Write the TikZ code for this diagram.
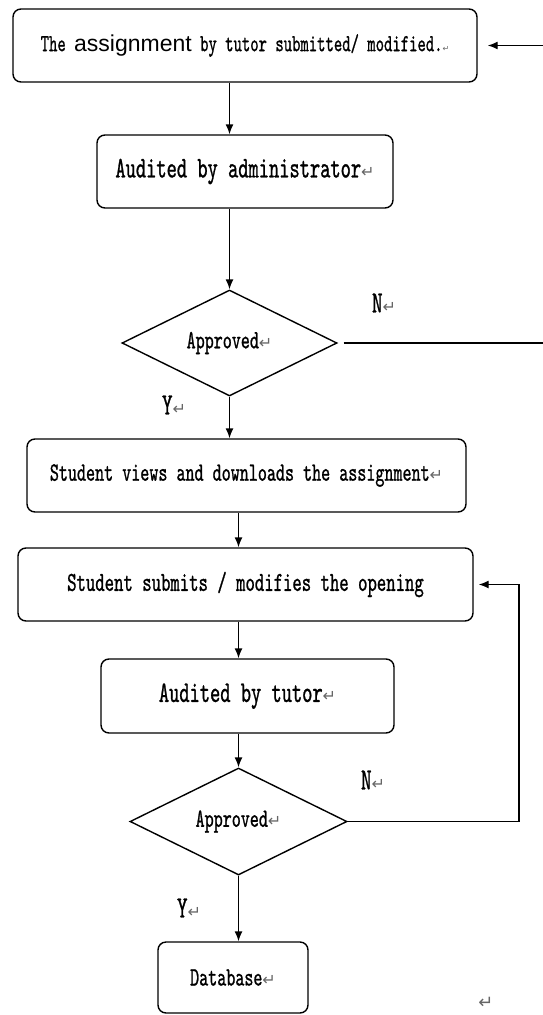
\documentclass[tikz,border=0pt]{standalone}
\usepackage{fontspec}
\usepackage{tikz}
\usetikzlibrary{shapes.geometric,arrows.meta}

\newfontfamily\cnmono[FakeStretch=0.65,FakeBold=0.9]{lmmono10-regular.otf}
\newfontfamily\cnsans{Liberation Sans}
\newfontfamily\markfont{DejaVu Sans}
\newcommand{\pmark}{{\markfont\fontsize{16}{16}\selectfont\color{black!60}↵}}

\begin{document}
\begin{tikzpicture}[
    x=1pt, y=-1pt,
    every node/.style={inner sep=0pt},
    box/.style={rectangle, draw, rounded corners=8pt, line width=1.4pt, minimum height=73pt},
    decision/.style={diamond, draw, aspect=2, line width=1.4pt},
    bigtext/.style={font=\cnmono\fontsize{30}{31}\selectfont},
    midtext/.style={font=\cnmono\fontsize{26.5}{28}\selectfont},
    yesno/.style={font=\cnmono\fontsize{31}{31}\selectfont},
    arrow/.style={-{Latex[length=10pt,width=8pt]}, line width=1.4pt}
]
\useasboundingbox (0,0) rectangle (543,1015);

% Nodes
\node (submit) [box, minimum width=464pt, font=\cnmono\fontsize{24.5}{26}\selectfont] at (245,45.5)
    {The {\cnsans\fontsize{23}{26}\selectfont assignment} by tutor submitted/ modified.{\markfont\fontsize{8}{8}\selectfont\color{black!60}↵}};
\node (admin)  [box, bigtext, minimum width=296pt] at (245,171.5) {Audited by administrator\pmark};
\node (check1) [decision, midtext, minimum width=215pt, minimum height=106pt] at (229.5,343) {Approved\pmark};
\node (views)  [box, midtext, minimum width=439pt] at (246.5,475.5) {Student views and downloads the assignment\pmark};
\node (open)   [box, minimum width=455pt, font=\cnmono\fontsize{27.5}{28}\selectfont] at (245.5,584.5) {Student submits / modifies the opening};
\node (tutor)  [box, bigtext, minimum width=293pt, minimum height=74pt] at (247.5,696) {Audited by tutor\pmark};
\node (check2) [decision, midtext, minimum width=217pt, minimum height=107pt] at (238.5,821.5) {Approved\pmark};
\node (db)     [box, midtext, minimum width=150pt, minimum height=71pt] at (233,977.5) {Database\pmark};

% Labels
\node (no1)  [yesno] at (384,303) {N\pmark};
\node (yes1) [yesno] at (174,405) {Y\pmark};
\node (no2)  [yesno] at (373,780) {N\pmark};
\node (yes2) [yesno] at (189,908) {Y\pmark};
\node (endmark) [font=\markfont\fontsize{18}{18}\selectfont, text=black!60] at (486,1003) {↵};

% Loop corners
\coordinate (back1) at (549,343);
\coordinate (back2) at (519,821.5);

% Arrows
\draw[arrow] (submit.south -| check1) -- (admin.north -| check1);
\draw[arrow] (admin.south -| check1) -- (check1.north);
\draw[arrow] (check1.south) -- (views.north -| check1);
\draw[arrow] (views.south -| check2) -- (open.north -| check2);
\draw[arrow] (open.south -| check2) -- (tutor.north -| check2);
\draw[arrow] (tutor.south -| check2) -- (check2.north);
\draw[arrow] (check2.south) -- (db.north -| check2);
\draw[arrow, shorten <=6pt, shorten >=10pt] (check1.east) -- (back1) |- (submit.east);
\draw[arrow, shorten >=5pt] (check2.east) -- (back2) |- (open.east);

\end{tikzpicture}
\end{document}
